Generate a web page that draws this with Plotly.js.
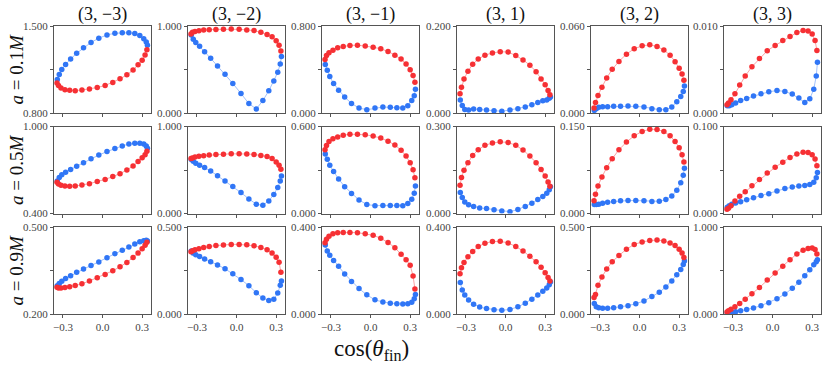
<!DOCTYPE html>
<html>
<head>
<meta charset="utf-8">
<script src="https://cdn.plot.ly/plotly-3.0.1.min.js"></script>
<style>
  html, body { margin: 0; padding: 0; background: #fff; }
  #chart { width: 830px; height: 372px; }
</style>
</head>
<body>
<div id="chart"></div>
<script>
// shared cos(theta_fin) sampling for the two branches
const xRed = [-0.345, -0.334, -0.315, -0.285, -0.249, -0.207, -0.156, -0.099, -0.040, 0.020, 0.078, 0.133, 0.185, 0.232, 0.270, 0.301, 0.323, 0.337];
const xBlue = [-0.343, -0.328, -0.309, -0.280, -0.242, -0.196, -0.144, -0.087, -0.028, 0.034, 0.094, 0.150, 0.200, 0.245, 0.283, 0.313, 0.332, 0.341];

const colTitles = ["(3, \u22123)", "(3, \u22122)", "(3, \u22121)", "(3, 1)", "(3, 2)", "(3, 3)"];
const rowTitles = ["<i>a</i> = 0.1<i>M</i>", "<i>a</i> = 0.5<i>M</i>", "<i>a</i> = 0.9<i>M</i>"];
const xTicks = [-0.3, 0.0, 0.3];
const xTickText = ["\u22120.3", "0.0", "0.3"];

const yLow = [
  [0.8, 0, 0, 0, 0, 0],
  [0.4, 0, 0, 0, 0, 0],
  [0.2, 0, 0, 0, 0, 0]
];
const yHigh = [
  [1.5, 1.0, 0.8, 0.2, 0.06, 0.01],
  [1.0, 1.0, 0.6, 0.3, 0.15, 0.1],
  [0.5, 0.5, 0.4, 0.4, 0.5, 1.0]
];

// a = 0.1M
const redRow1 = [
  [1.042, 1.021, 1.002, 0.988, 0.983, 0.980, 0.985, 0.993, 1.005, 1.021, 1.046, 1.075, 1.107, 1.145, 1.188, 1.225, 1.266, 1.309],
  [0.907, 0.927, 0.938, 0.946, 0.954, 0.958, 0.961, 0.964, 0.965, 0.962, 0.955, 0.947, 0.927, 0.903, 0.876, 0.830, 0.780, 0.714],
  [0.493, 0.529, 0.554, 0.578, 0.599, 0.611, 0.621, 0.624, 0.617, 0.605, 0.590, 0.566, 0.532, 0.496, 0.450, 0.398, 0.344, 0.283],
  [0.044, 0.059, 0.078, 0.096, 0.112, 0.124, 0.133, 0.138, 0.141, 0.140, 0.132, 0.122, 0.110, 0.095, 0.078, 0.065, 0.052, 0.042],
  [0.0034, 0.0073, 0.0121, 0.0178, 0.0242, 0.0301, 0.0356, 0.0406, 0.0443, 0.0463, 0.0470, 0.0459, 0.0434, 0.0399, 0.0354, 0.0308, 0.0269, 0.0226],
  [0.00095, 0.00114, 0.00152, 0.0022, 0.00323, 0.00426, 0.00532, 0.00627, 0.00715, 0.00776, 0.00833, 0.00878, 0.00924, 0.00947, 0.00943, 0.00909, 0.00833, 0.00719]
];
const blueRow1 = [
  [1.070, 1.110, 1.150, 1.190, 1.235, 1.280, 1.325, 1.368, 1.402, 1.428, 1.442, 1.446, 1.446, 1.440, 1.424, 1.398, 1.372, 1.345],
  [0.896, 0.849, 0.811, 0.768, 0.703, 0.629, 0.541, 0.444, 0.340, 0.224, 0.108, 0.046, 0.143, 0.255, 0.367, 0.467, 0.564, 0.649],
  [0.447, 0.392, 0.335, 0.271, 0.210, 0.146, 0.088, 0.046, 0.030, 0.046, 0.055, 0.052, 0.049, 0.046, 0.067, 0.116, 0.158, 0.219],
  [0.030, 0.017, 0.008, 0.007, 0.009, 0.008, 0.007, 0.005, 0.004, 0.007, 0.010, 0.014, 0.019, 0.024, 0.028, 0.030, 0.034, 0.037],
  [0.0018, 0.0030, 0.0039, 0.0043, 0.0043, 0.0046, 0.0046, 0.0048, 0.0046, 0.0041, 0.0030, 0.0023, 0.0023, 0.0041, 0.0078, 0.0114, 0.0148, 0.0187],
  [0.00084, 0.00084, 0.00095, 0.00114, 0.00144, 0.00167, 0.00194, 0.0022, 0.00243, 0.00259, 0.00247, 0.00217, 0.00171, 0.00122, 0.00163, 0.00274, 0.00426, 0.00582]
];

// a = 0.5M
const redRow2 = [
  [0.615, 0.603, 0.594, 0.589, 0.588, 0.589, 0.596, 0.606, 0.621, 0.635, 0.655, 0.675, 0.700, 0.728, 0.758, 0.784, 0.806, 0.830],
  [0.632, 0.638, 0.648, 0.657, 0.664, 0.671, 0.677, 0.682, 0.686, 0.688, 0.684, 0.679, 0.668, 0.655, 0.633, 0.592, 0.555, 0.510],
  [0.440, 0.469, 0.497, 0.515, 0.527, 0.540, 0.547, 0.547, 0.543, 0.534, 0.520, 0.499, 0.472, 0.437, 0.396, 0.350, 0.302, 0.247],
  [0.097, 0.124, 0.149, 0.175, 0.200, 0.220, 0.235, 0.243, 0.247, 0.245, 0.235, 0.219, 0.198, 0.175, 0.152, 0.129, 0.109, 0.094],
  [0.0218, 0.0332, 0.0475, 0.0630, 0.0790, 0.0945, 0.1099, 0.1231, 0.1340, 0.1414, 0.1454, 0.1448, 0.1414, 0.1340, 0.1242, 0.1134, 0.1013, 0.0887],
  [0.0050, 0.0060, 0.0090, 0.0145, 0.0197, 0.0250, 0.0320, 0.0390, 0.0465, 0.0532, 0.0590, 0.0645, 0.0683, 0.0704, 0.0701, 0.0674, 0.0626, 0.0550]
];
const blueRow2 = [
  [0.625, 0.648, 0.667, 0.684, 0.703, 0.726, 0.750, 0.777, 0.803, 0.827, 0.848, 0.866, 0.879, 0.885, 0.885, 0.879, 0.866, 0.850],
  [0.620, 0.600, 0.577, 0.555, 0.528, 0.488, 0.434, 0.375, 0.310, 0.240, 0.168, 0.106, 0.095, 0.145, 0.218, 0.300, 0.375, 0.430],
  [0.410, 0.375, 0.333, 0.290, 0.238, 0.185, 0.138, 0.093, 0.062, 0.054, 0.055, 0.055, 0.055, 0.054, 0.069, 0.098, 0.140, 0.190],
  [0.072, 0.055, 0.040, 0.030, 0.024, 0.019, 0.017, 0.013, 0.009, 0.006, 0.014, 0.024, 0.035, 0.048, 0.059, 0.070, 0.082, 0.092],
  [0.0155, 0.0156, 0.0158, 0.0175, 0.0195, 0.0205, 0.0218, 0.0223, 0.0223, 0.0220, 0.0208, 0.0210, 0.0240, 0.0300, 0.0400, 0.0530, 0.0660, 0.0780],
  [0.0073, 0.0090, 0.0105, 0.0120, 0.0135, 0.0157, 0.0180, 0.0206, 0.0228, 0.0259, 0.0286, 0.0306, 0.0316, 0.0322, 0.0334, 0.0360, 0.0410, 0.0470]
];

// a = 0.9M
const redRow3 = [
  [0.292, 0.290, 0.290, 0.291, 0.294, 0.298, 0.304, 0.314, 0.325, 0.336, 0.349, 0.363, 0.378, 0.395, 0.410, 0.425, 0.437, 0.447],
  [0.358, 0.364, 0.369, 0.375, 0.382, 0.388, 0.393, 0.397, 0.400, 0.400, 0.398, 0.392, 0.382, 0.369, 0.350, 0.326, 0.298, 0.240],
  [0.328, 0.344, 0.358, 0.369, 0.373, 0.375, 0.375, 0.374, 0.369, 0.362, 0.348, 0.329, 0.305, 0.275, 0.250, 0.224, 0.175, 0.115],
  [0.185, 0.213, 0.237, 0.263, 0.287, 0.310, 0.325, 0.333, 0.334, 0.327, 0.310, 0.290, 0.265, 0.240, 0.215, 0.190, 0.168, 0.152],
  [0.095, 0.112, 0.165, 0.213, 0.258, 0.300, 0.336, 0.372, 0.400, 0.414, 0.422, 0.425, 0.420, 0.408, 0.393, 0.372, 0.350, 0.325],
  [0.022, 0.036, 0.054, 0.083, 0.122, 0.170, 0.232, 0.305, 0.390, 0.470, 0.550, 0.625, 0.690, 0.733, 0.752, 0.758, 0.740, 0.690]
];
const blueRow3 = [
  [0.297, 0.305, 0.313, 0.322, 0.332, 0.344, 0.355, 0.367, 0.379, 0.394, 0.408, 0.420, 0.431, 0.441, 0.449, 0.453, 0.454, 0.452],
  [0.362, 0.350, 0.341, 0.331, 0.316, 0.301, 0.282, 0.260, 0.231, 0.198, 0.163, 0.122, 0.092, 0.078, 0.085, 0.120, 0.165, 0.190],
  [0.317, 0.290, 0.270, 0.246, 0.219, 0.184, 0.150, 0.117, 0.088, 0.065, 0.055, 0.050, 0.047, 0.046, 0.047, 0.054, 0.070, 0.090],
  [0.145, 0.110, 0.087, 0.064, 0.045, 0.032, 0.025, 0.020, 0.017, 0.021, 0.033, 0.050, 0.068, 0.087, 0.105, 0.120, 0.135, 0.147],
  [0.060, 0.042, 0.036, 0.033, 0.033, 0.036, 0.041, 0.048, 0.059, 0.075, 0.100, 0.125, 0.155, 0.190, 0.225, 0.256, 0.285, 0.305],
  [0.013, 0.015, 0.018, 0.025, 0.036, 0.051, 0.070, 0.096, 0.130, 0.175, 0.230, 0.295, 0.365, 0.440, 0.510, 0.565, 0.600, 0.625]
];

const redRows = [redRow1, redRow2, redRow3];
const blueRows = [blueRow1, blueRow2, blueRow3];

(function () {
  const W = 830, H = 372;
  const colLeft = [54, 188, 322, 457, 591, 724];
  const panelW = 97;
  const rowTop = [26, 126.5, 227];
  const panelH = 87;
  const serif = "'Liberation Serif', 'DejaVu Serif', serif";
  const frame = "#555";
  const redDot = "rgb(246,48,52)";
  const blueDot = "rgb(48,118,246)";

  const traces = [];
  const layout = {
    width: W,
    height: H,
    margin: { l: 0, r: 0, t: 0, b: 0 },
    paper_bgcolor: "#fff",
    plot_bgcolor: "#fff",
    showlegend: false,
    font: { family: serif, color: "#444", size: 11 },
    annotations: []
  };

  for (let r = 0; r < 3; r++) {
    for (let c = 0; c < 6; c++) {
      const k = r * 6 + c + 1;
      const xa = "x" + (k === 1 ? "" : k);
      const ya = "y" + (k === 1 ? "" : k);
      const lo = yLow[r][c];
      const hi = yHigh[r][c];

      traces.push({
        type: "scatter",
        mode: "lines+markers",
        x: xBlue,
        y: blueRows[r][c],
        xaxis: xa,
        yaxis: ya,
        line: { color: "rgba(48,118,246,0.45)", width: 1 },
        marker: { color: blueDot, size: 5.5 },
        hoverinfo: "skip"
      });
      traces.push({
        type: "scatter",
        mode: "lines+markers",
        x: xRed,
        y: redRows[r][c],
        xaxis: xa,
        yaxis: ya,
        line: { color: "rgba(246,48,52,0.45)", width: 1 },
        marker: { color: redDot, size: 5.5 },
        hoverinfo: "skip"
      });

      const axisBase = {
        showline: true,
        mirror: true,
        linecolor: frame,
        linewidth: 1,
        ticks: "outside",
        ticklen: 3,
        tickcolor: frame,
        showgrid: false,
        zeroline: false,
        fixedrange: true,
        tickfont: { family: serif, size: 11, color: "#444" }
      };

      layout["xaxis" + (k === 1 ? "" : k)] = Object.assign({}, axisBase, {
        domain: [colLeft[c] / W, (colLeft[c] + panelW) / W],
        anchor: ya,
        range: [-0.368, 0.368],
        tickmode: "array",
        tickvals: xTicks,
        ticktext: xTickText,
        showticklabels: r === 2
      });
      layout["yaxis" + (k === 1 ? "" : k)] = Object.assign({}, axisBase, {
        domain: [1 - (rowTop[r] + panelH) / H, 1 - rowTop[r] / H],
        anchor: xa,
        range: [lo, hi],
        tickmode: "array",
        tickvals: [lo, (lo + hi) / 2, hi],
        ticktext: [lo.toFixed(3), "", hi.toFixed(3)]
      });
    }
  }

  colTitles.forEach((t, c) => {
    layout.annotations.push({
      text: t,
      xref: "paper", yref: "paper",
      x: (colLeft[c] + panelW / 2) / W,
      y: 1 - 15 / H,
      xanchor: "center", yanchor: "middle",
      showarrow: false,
      font: { family: serif, size: 18, color: "#111" }
    });
  });

  rowTitles.forEach((t, r) => {
    layout.annotations.push({
      text: t,
      xref: "paper", yref: "paper",
      x: 16 / W,
      y: 1 - (rowTop[r] + panelH / 2) / H,
      xanchor: "center", yanchor: "middle",
      textangle: -90,
      showarrow: false,
      font: { family: serif, size: 19, color: "#111" }
    });
  });

  layout.annotations.push({
    text: "cos(<i>\u03b8</i><sub>fin</sub>)",
    xref: "paper", yref: "paper",
    x: 371 / W,
    y: 1 - 350 / H,
    xanchor: "center", yanchor: "middle",
    showarrow: false,
    font: { family: serif, size: 23, color: "#111" }
  });

  Plotly.newPlot("chart", traces, layout, { staticPlot: true, displayModeBar: false });
})();
</script>
</body>
</html>
